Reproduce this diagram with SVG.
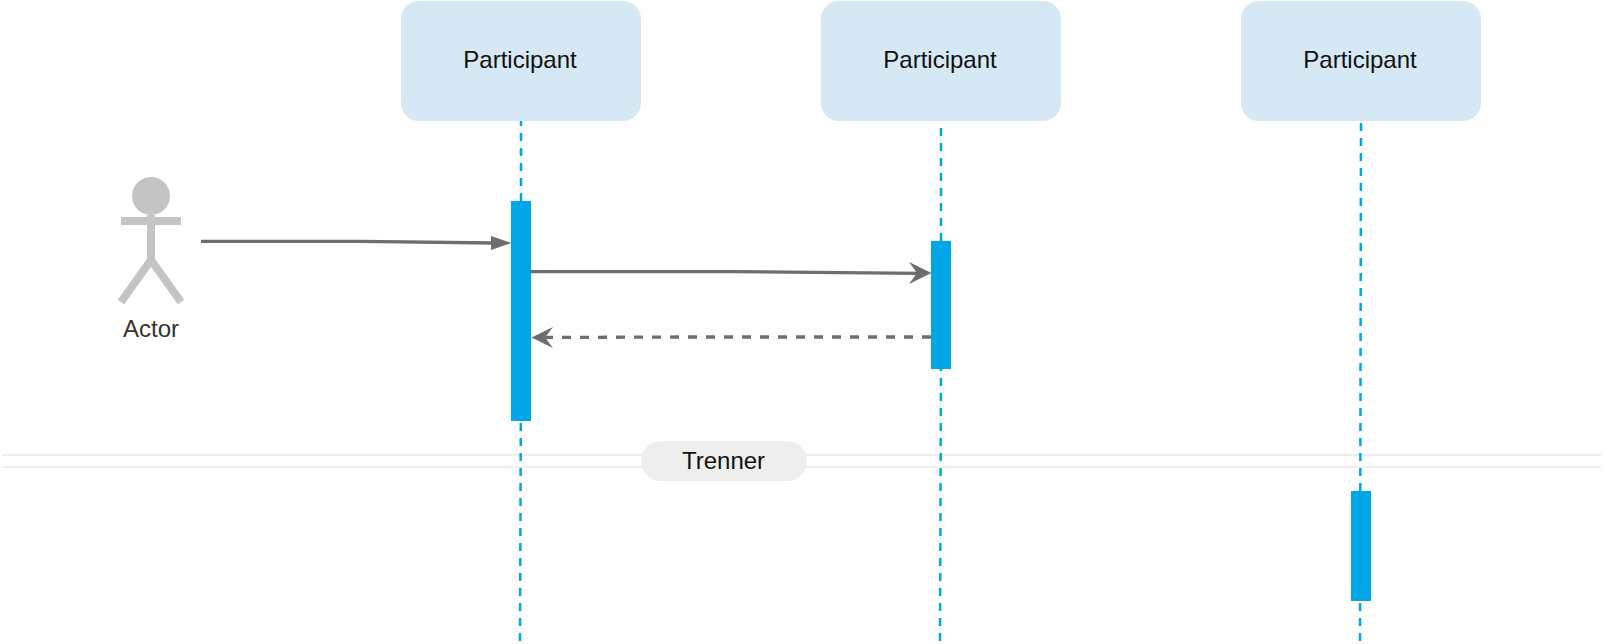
<svg xmlns="http://www.w3.org/2000/svg" width="1604" height="644" viewBox="0 0 1604 644">
<style>
text{font-family:"Liberation Sans",Arial,sans-serif;font-size:24px;text-anchor:middle;fill:#111}
.p{fill:#d7e8f5}
.a{fill:#00a6e6}
.l{fill:none;stroke:#00a6e6;stroke-width:2.500;stroke-dasharray:8 7}
.s{fill:none;stroke:#eeeeee;stroke-width:2}
.m{fill:none;stroke:#6e6e6e;stroke-width:3.300}
.h{fill:#6e6e6e}
.f{fill:none;stroke:#c4c4c4;stroke-width:8}
</style>
<g id="separator">
<path class="s" d="M1 455H1601"/>
<path class="s" d="M3 467H1601"/>
</g>
<g id="connectors">
<path class="l" d="M521 118V201"/>
<path class="l" d="M520.800 423L520 642"/>
<path class="l" d="M941 128V241"/>
<path class="l" d="M941 363L940 642"/>
<path class="l" d="M1361 123L1360 642"/>
<path class="m" d="M201 241.300H360L495 243"/>
<path class="h" d="M511.500 243L491 236V250Z"/>
<path class="m" d="M531 271.700H735L920 273.300"/>
<path class="h" d="M931.500 273L909 262L917 273L909 284Z"/>
<path class="m" d="M931 337H680L545 337.500" stroke-dasharray="9 9"/>
<path class="h" d="M531.500 337.500L553 327L545 337.500L553 348Z"/>
</g>
<g id="participant-1"><rect class="p" x="401" y="1" width="240" height="120" rx="18"/><text x="520" y="68">Participant</text></g>
<g id="participant-2"><rect class="p" x="821" y="1" width="240" height="120" rx="18"/><text x="940" y="68">Participant</text></g>
<g id="participant-3"><rect class="p" x="1241" y="1" width="240" height="120" rx="18"/><text x="1360" y="68">Participant</text></g>
<g id="actor">
<circle cx="151" cy="196" r="19" fill="#c4c4c4"/>
<path class="f" d="M121 221H181M151 215V261M151 260L121 302M151 260L181 302"/>
<text x="151" y="337" style="fill:#333">Actor</text>
</g>
<g id="activation-1"><rect class="a" x="511" y="201" width="20" height="220"/></g>
<g id="activation-2"><rect class="a" x="931" y="241" width="20" height="128"/></g>
<g id="activation-3"><rect class="a" x="1351" y="491" width="20" height="110"/></g>
<g id="divider"><rect x="641" y="441" width="166" height="40" rx="20" fill="#eeeeee"/><text x="723.500" y="468.500">Trenner</text></g>
</svg>
